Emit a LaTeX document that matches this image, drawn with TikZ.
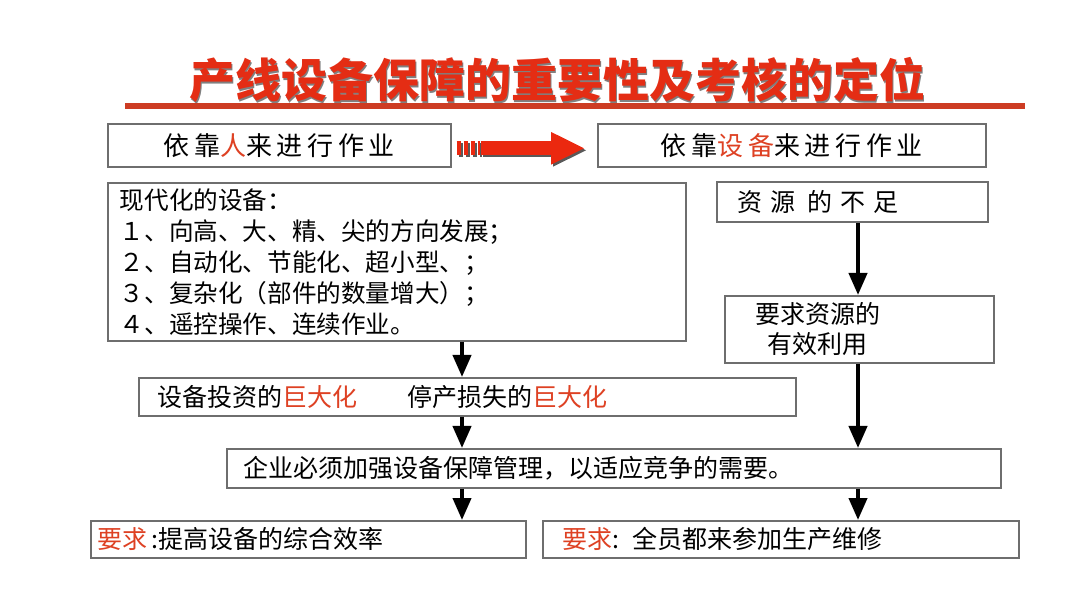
\documentclass[tikz,border=0pt]{standalone}
\usepackage{fontspec}
\setmainfont{Noto Sans CJK SC}
\usepackage{tikz}
\usetikzlibrary{arrows.meta, calc}
\definecolor{titlered}{RGB}{228,45,20}
\definecolor{rulered}{RGB}{205,60,35}
\definecolor{keyred}{RGB}{222,65,35}
\definecolor{arrowred}{RGB}{235,40,15}
\definecolor{boxline}{RGB}{110,110,110}
\newcommand{\hl}[1]{\textcolor{keyred}{#1}}

\begin{document}
\begin{tikzpicture}[x=0.5pt, y=-0.5pt,
    box/.style={draw=boxline, line width=0.8pt, fill=white, anchor=north west,
                inner sep=0pt, font=\fontsize{12.5}{15}\selectfont},
    widebox/.style={box, font={\fontsize{13}{15}\selectfont\addfontfeatures{LetterSpace=18}}},
    flow/.style={-{Triangle[length=11pt, width=9pt]}, line width=2pt, black}]

  \useasboundingbox (0,0) rectangle (1080,608);

  % Title
  \node[font=\fontsize{23}{23}\selectfont\bfseries, text=black!50] (titleshadow) at (558.5,81.5)
    {产线设备保障的重要性及考核的定位};
  \node[font=\fontsize{23}{23}\selectfont\bfseries, text=titlered] (title) at (557,80)
    {产线设备保障的重要性及考核的定位};
  \draw[rulered, line width=3pt] (125,106) -- (1025,106);

  % Row 1
  \node[widebox, minimum width=171.5pt, minimum height=21.5pt] (A) at (107,123)
    {依靠\hl{人}来进行作业};
  \node[widebox, minimum width=194pt, minimum height=21.5pt] (B) at (597,123)
    {依靠\hl{设备}来进行作业};

  % Row 2
  \node[box, font=\fontsize{12.3}{15.5}\selectfont, align=left, inner xsep=6pt,
        text width=277pt, minimum height=79pt] (C) at (107,182)
    {现代化的设备：\\
     １、向高、大、精、尖的方向发展；\\
     ２、自动化、节能化、超小型、；\\
     ３、复杂化（部件的数量增大）；\\
     ４、遥控操作、连续作业。};
  \node[box, align=left, inner xsep=10.5pt, text width=114.5pt, minimum height=20pt] (D) at (716,181)
    {资\hspace{4pt}源\hspace{6pt}的\hspace{4pt}不\hspace{4pt}足};
  \node[box, align=left, inner xsep=15.5pt, text width=103.5pt, minimum height=33.5pt] (E) at (724,295)
    {要求资源的\\ \hspace{6pt}有效利用};

  % Row 3
  \node[box, align=left, inner xsep=9.5pt, text width=309.5pt, minimum height=19pt] (F) at (138,377)
    {设备投资的\hl{巨大化}\hspace{25pt}停产损失的\hl{巨大化}};
  \node[box, align=left, inner xsep=8.5pt, text width=370pt, minimum height=19.5pt] (G) at (226,448)
    {企业必须加强设备保障管理，以适应竞争的需要。};

  % Row 4
  \node[box, align=left, inner xsep=3.5pt, text width=210.5pt, minimum height=18.5pt] (H) at (90,520)
    {\hl{要求}\,:提高设备的综合效率};
  \node[box, align=left, inner xsep=10pt, text width=218pt, minimum height=18.5pt] (I) at (542,520)
    {\hl{要求}: 全员都来参加生产维修};

  % big arrow
  \draw[black!65, line width=7pt, dash pattern=on 2pt off 1.5pt]
    ($(A.east)+(7,5)$) -- ($(A.east)+(30,5)$);
  \draw[black!65, line width=7pt, -{Triangle[length=17pt, width=15pt]}]
    ($(A.east)+(31,5)$) -- ($(B.west)+(-10,5)$);
  \draw[arrowred, line width=7pt, dash pattern=on 2pt off 1.5pt]
    ($(A.east)+(5,3)$) -- ($(A.east)+(28,3)$);
  \draw[arrowred, line width=7pt, -{Triangle[length=17pt, width=15pt]}]
    ($(A.east)+(29,3)$) -- ($(B.west)+(-12,3)$);

  \coordinate (lcol) at (462,0);
  \coordinate (rcol) at (858,0);
  \draw[flow] (C.south -| lcol) -- (F.north -| lcol);
  \draw[flow] (F.south -| lcol) -- (G.north -| lcol);
  \draw[flow] (G.south -| lcol) -- (H.north -| lcol);
  \draw[flow] (D.south -| rcol) -- (E.north -| rcol);
  \draw[flow] (E.south -| rcol) -- (G.north -| rcol);
  \draw[flow] (G.south -| rcol) -- (I.north -| rcol);

\end{tikzpicture}
\end{document}
